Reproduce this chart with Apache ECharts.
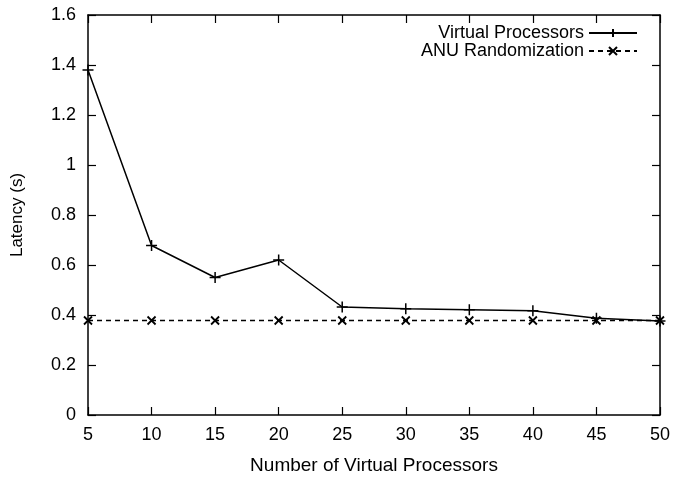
<!DOCTYPE html>
<html>
<head>
<meta charset="utf-8">
<script src="https://cdn.jsdelivr.net/npm/echarts@6/dist/echarts.min.js"></script>
<style>
  html, body { margin: 0; padding: 0; background: #fff; }
  #chart { width: 673px; height: 480px; }
</style>
</head>
<body>
<div id="chart"></div>
<script>
// Number of virtual processors (x) and measured latency in seconds
const processors = [5, 10, 15, 20, 25, 30, 35, 40, 45, 50];
const virtualProcessorsLatency = [1.38, 0.678, 0.55, 0.62, 0.432, 0.425, 0.421, 0.417, 0.387, 0.376];
const anuRandomizationLatency = [0.378, 0.378, 0.378, 0.378, 0.378, 0.378, 0.378, 0.378, 0.378, 0.378];
const seriesNames = ['Virtual Processors', 'ANU Randomization'];

const FONT = "'Liberation Sans', Arial, Helvetica, sans-serif";
const INK = '#000';

const pairs = (vals) => processors.map((x, i) => [x, vals[i]]);

const PLUS = 'path://M0,5L10,5M5,0L5,10';
const CROSS = 'path://M0,0L10,10M10,0L0,10';

const axisCommon = {
  axisLine: { show: true, onZero: false, lineStyle: { color: INK, width: 1.5 } },
  axisTick: { show: true, inside: true, length: 8, lineStyle: { color: INK, width: 1.2 } },
  splitLine: { show: false },
};

const chart = echarts.init(document.getElementById('chart'), null, { renderer: 'canvas' });

chart.setOption({
  animation: false,
  backgroundColor: '#fff',
  textStyle: { fontFamily: FONT, color: INK },
  grid: { left: 88, right: 12, top: 15, bottom: 62, containLabel: false },
  xAxis: [
    Object.assign({}, axisCommon, {
      type: 'value', position: 'bottom', min: 5, max: 50, interval: 5,
      name: 'Number of Virtual Processors', nameLocation: 'middle', nameGap: 41,
      nameTextStyle: { fontFamily: FONT, fontSize: 19, color: INK },
      axisLabel: { fontFamily: FONT, fontSize: 18, color: INK, margin: 11 },
    }),
    Object.assign({}, axisCommon, {
      type: 'value', position: 'top', min: 5, max: 50, interval: 5,
      axisLabel: { show: false },
    }),
  ],
  yAxis: [
    Object.assign({}, axisCommon, {
      type: 'value', position: 'left', min: 0, max: 1.6, interval: 0.2,
      name: 'Latency (s)', nameLocation: 'middle', nameGap: 62, nameRotate: 90,
      nameTextStyle: { fontFamily: FONT, fontSize: 17, color: INK },
      axisLabel: { fontFamily: FONT, fontSize: 18, color: INK, margin: 12 },
    }),
    Object.assign({}, axisCommon, {
      type: 'value', position: 'right', min: 0, max: 1.6, interval: 0.2,
      axisLabel: { show: false },
    }),
  ],
  legend: [
    {
      data: [seriesNames[0]], right: 35, top: 24, align: 'right',
      itemWidth: 48, itemHeight: 10, itemGap: 0, padding: 0,
      textStyle: { fontFamily: FONT, fontSize: 18, color: INK },
      selectedMode: false,
    },
    {
      data: [seriesNames[1]], right: 35, top: 42, align: 'right',
      itemWidth: 48, itemHeight: 10, itemGap: 0, padding: 0,
      textStyle: { fontFamily: FONT, fontSize: 18, color: INK },
      selectedMode: false,
    },
  ],
  series: [
    {
      name: seriesNames[0], type: 'line', xAxisIndex: 0, yAxisIndex: 0,
      data: pairs(virtualProcessorsLatency),
      symbol: PLUS, symbolSize: 11, showAllSymbol: true,
      lineStyle: { color: INK, width: 1.5, type: 'solid' },
      itemStyle: { color: INK, borderColor: INK, borderWidth: 1.5 },
      emphasis: { disabled: true },
    },
    {
      name: seriesNames[1], type: 'line', xAxisIndex: 0, yAxisIndex: 0,
      data: pairs(anuRandomizationLatency),
      symbol: CROSS, symbolSize: 8, showAllSymbol: true,
      lineStyle: { color: INK, width: 1.5, type: [5, 4] },
      itemStyle: { color: INK, borderColor: INK, borderWidth: 1.8 },
      emphasis: { disabled: true },
    },
  ],
});
</script>
</body>
</html>
